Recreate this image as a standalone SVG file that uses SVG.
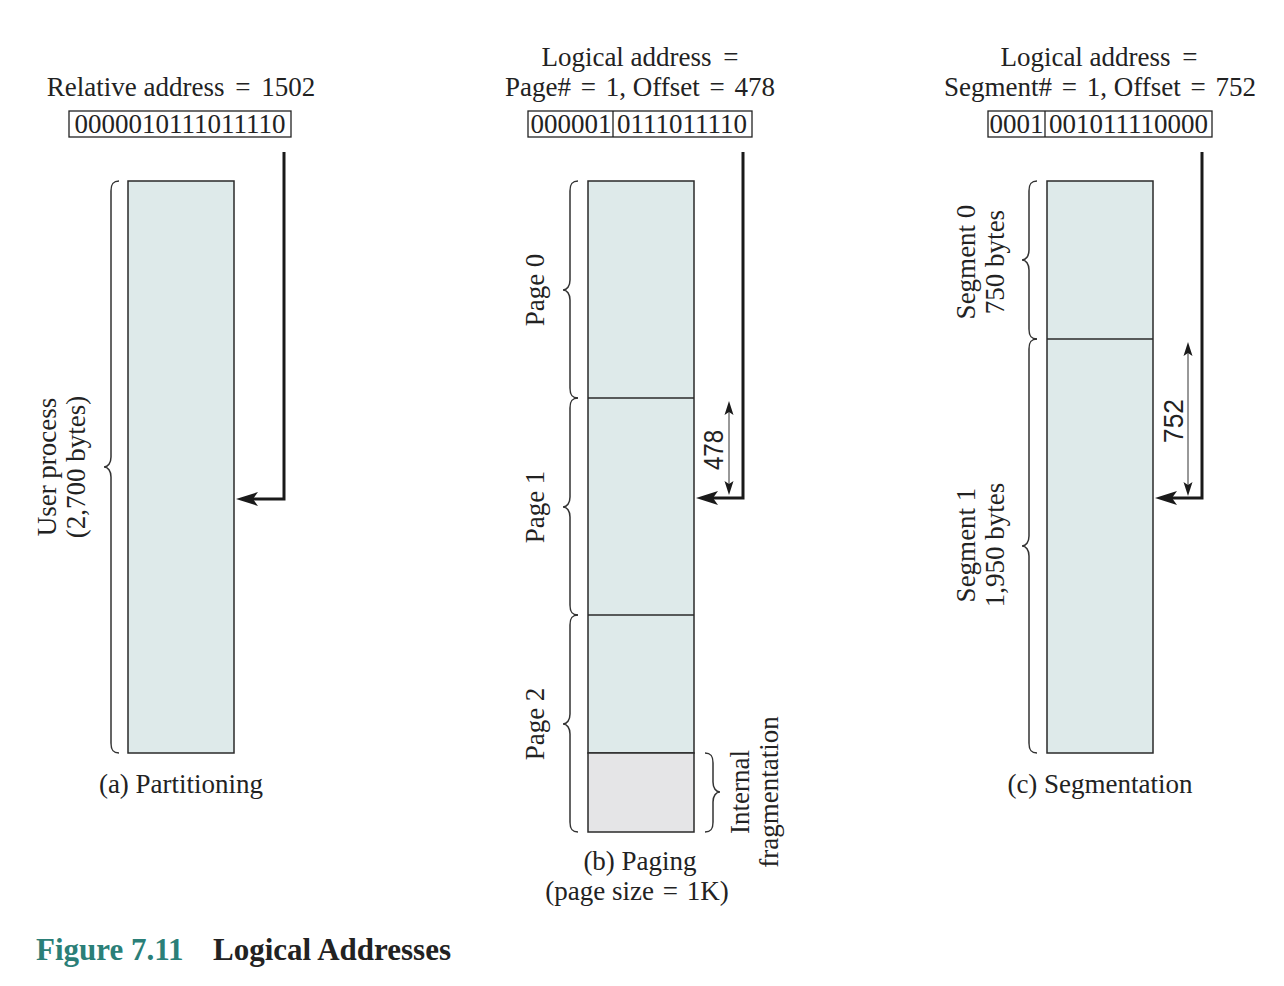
<svg xmlns="http://www.w3.org/2000/svg" width="1284" height="986" viewBox="0 0 1284 986">
<style>
text{font-family:"Liberation Serif","Times New Roman",serif;font-size:27px;fill:#222}
.mid{text-anchor:middle}
.seg{fill:#deeaea;stroke:#2a2a2a;stroke-width:1.5}
.frag{fill:#e5e5e7;stroke:#2a2a2a;stroke-width:1.5}
.div{stroke:#2a2a2a;stroke-width:1.5;fill:none}
.box{fill:none;stroke:#222;stroke-width:1.3}
.brace{fill:none;stroke:#333;stroke-width:1.5}
.thick{fill:none;stroke:#1a1a1a;stroke-width:3}
.thin{fill:none;stroke:#333;stroke-width:1}
.head{fill:#1a1a1a}
.dim{font-family:"Liberation Sans",Arial,sans-serif;font-size:28px}
.cap{font-weight:bold;font-size:31px}
</style>

<g id="panel-a">
  <text class="mid" x="181" y="96">Relative address <tspan dx="4">=</tspan><tspan dx="4"> 1502</tspan></text>
  <rect class="box" x="69" y="111" width="222" height="26"/>
  <text class="mid" x="180" y="133">0000010111011110</text>
  <rect class="seg" x="128" y="181" width="106" height="572"/>
  <path class="brace" d="M119,181 C113,181 111,184 111,191 L111,457 C111,463 108,467 104,467 C108,467 111,471 111,477 L111,743 C111,750 113,753 119,753"/>
  <text class="mid" transform="translate(56,467) rotate(-90)">User process</text>
  <text class="mid" transform="translate(85,467) rotate(-90)">(2,700 bytes)</text>
  <text class="mid" x="181" y="793">(a) Partitioning</text>
</g>

<g id="panel-b">
  <text class="mid" x="640" y="66">Logical address <tspan dx="5">=</tspan></text>
  <text class="mid" x="640" y="96">Page# <tspan dx="3">=</tspan><tspan dx="3"> 1, Offset </tspan><tspan dx="3">=</tspan><tspan dx="3"> 478</tspan></text>
  <rect class="box" x="528" y="111" width="224" height="26"/>
  <line class="box" x1="613" y1="111" x2="613" y2="137"/>
  <text class="mid" x="571" y="133">000001</text>
  <text class="mid" x="682" y="133">0111011110</text>
  <rect class="seg" x="588" y="181" width="106" height="572"/>
  <rect class="frag" x="588" y="753" width="106" height="79"/>
  <line class="div" x1="588" y1="398" x2="694" y2="398"/>
  <line class="div" x1="588" y1="615" x2="694" y2="615"/>
  <path class="brace" d="M578,181 C572,181 570,184 570,191 L570,280 C570,286 567,290 563,290 C567,290 570,294 570,300 L570,388 C570,395 572,398 578,398"/>
  <path class="brace" d="M578,398 C572,398 570,401 570,408 L570,497 C570,503 567,507 563,507 C567,507 570,511 570,517 L570,605 C570,612 572,615 578,615"/>
  <path class="brace" d="M578,615 C572,615 570,618 570,625 L570,714 C570,720 567,724 563,724 C567,724 570,728 570,734 L570,822 C570,829 572,832 578,832"/>
  <path class="brace" d="M705,753 C711,753 713,756 713,763 L713,782 C713,788 716,792 720,792 C716,792 713,796 713,802 L713,822 C713,829 711,832 705,832"/>
  <text class="mid" transform="translate(544,290) rotate(-90)">Page 0</text>
  <text class="mid" transform="translate(544,507) rotate(-90)">Page 1</text>
  <text class="mid" transform="translate(544,724) rotate(-90)">Page 2</text>
  <text class="mid" transform="translate(749,792) rotate(-90)">Internal</text>
  <text class="mid" transform="translate(778,792) rotate(-90)">fragmentation</text>
  <text class="mid" x="640" y="870">(b) Paging</text>
  <text class="mid" x="637" y="900">(page size <tspan dx="2">=</tspan><tspan dx="2"> 1K)</tspan></text>
</g>

<g id="panel-c">
  <text class="mid" x="1099" y="66">Logical address <tspan dx="5">=</tspan></text>
  <text class="mid" x="1100" y="96">Segment# <tspan dx="3">=</tspan><tspan dx="3"> 1, Offset </tspan><tspan dx="3">=</tspan><tspan dx="3"> 752</tspan></text>
  <rect class="box" x="988" y="111" width="224" height="26"/>
  <line class="box" x1="1045" y1="111" x2="1045" y2="137"/>
  <text class="mid" x="1016.5" y="133">0001</text>
  <text class="mid" x="1128.5" y="133">001011110000</text>
  <rect class="seg" x="1047" y="181" width="106" height="572"/>
  <line class="div" x1="1047" y1="339" x2="1153" y2="339"/>
  <path class="brace" d="M1037,181 C1031,181 1029,184 1029,191 L1029,250 C1029,256 1026,260 1022,260 C1026,260 1029,264 1029,270 L1029,329 C1029,336 1031,339 1037,339"/>
  <path class="brace" d="M1037,339 C1031,339 1029,342 1029,349 L1029,536 C1029,542 1026,546 1022,546 C1026,546 1029,550 1029,556 L1029,743 C1029,750 1031,753 1037,753"/>
  <text class="mid" transform="translate(975,262) rotate(-90)">Segment 0</text>
  <text class="mid" transform="translate(1004,262) rotate(-90)">750 bytes</text>
  <text class="mid" transform="translate(975,545) rotate(-90)">Segment 1</text>
  <text class="mid" transform="translate(1004,545) rotate(-90)">1,950 bytes</text>
  <text class="mid" x="1100" y="793">(c) Segmentation</text>
</g>

<g id="connectors">
  <polyline class="thick" points="284,152 284,499 252,499"/>
  <path class="head" d="M236,499 L258,492 L253,499 L258,506 Z"/>
  <polyline class="thick" points="743,152 743,498 712,498"/>
  <path class="head" d="M696,498 L718,491 L713,498 L718,505 Z"/>
  <polyline class="thick" points="1202,152 1202,498 1171,498"/>
  <path class="head" d="M1155,498 L1177,491 L1172,498 L1177,505 Z"/>
  <line class="thin" x1="729" y1="408" x2="729" y2="488"/>
  <path class="head" d="M729,401 L733.5,415 L729,412 L724.5,415 Z"/>
  <path class="head" d="M729,495 L733.5,481 L729,484 L724.5,481 Z"/>
  <line class="thin" x1="1188" y1="349" x2="1188" y2="489"/>
  <path class="head" d="M1188,342 L1192.5,356 L1188,353 L1183.5,356 Z"/>
  <path class="head" d="M1188,496 L1192.5,482 L1188,485 L1183.5,482 Z"/>
  <text class="dim mid" transform="translate(723,450) rotate(-90)" textLength="40" lengthAdjust="spacingAndGlyphs">478</text>
  <text class="dim mid" transform="translate(1183,421) rotate(-90)" textLength="44" lengthAdjust="spacingAndGlyphs">752</text>
</g>

<g id="caption">
  <text class="cap" x="36" y="960" style="fill:#2b7f78">Figure 7.11</text>
  <text class="cap" x="213" y="960">Logical Addresses</text>
</g>
</svg>
